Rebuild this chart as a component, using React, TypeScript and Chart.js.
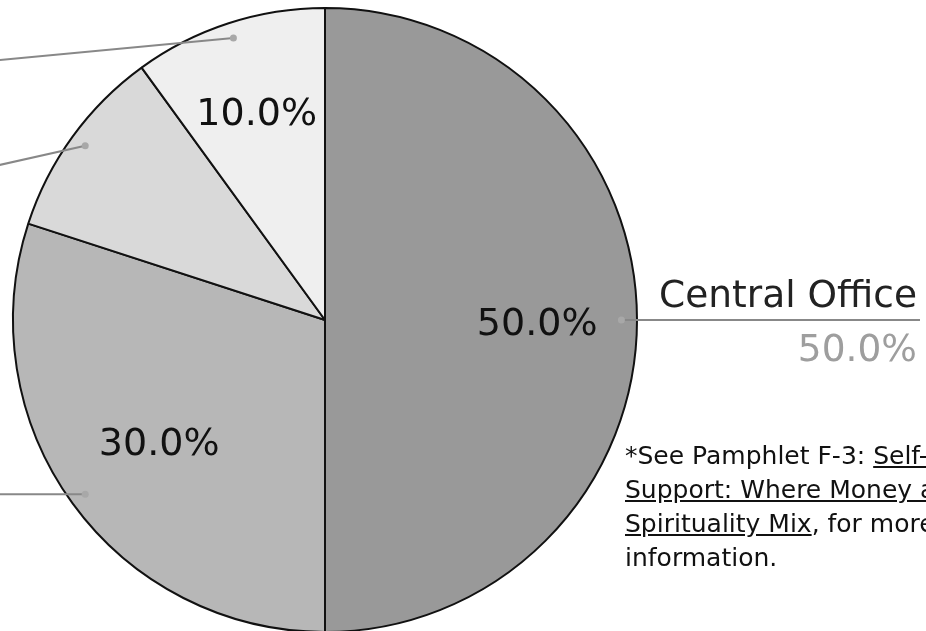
import React, { useEffect, useRef } from "react";
import { Chart, registerables } from "chart.js";

Chart.register(...registerables);

// ---- data ----
const categories = ["Central Office", "General Service Office", "Area", "District"];
const values = [50, 30, 10, 10];
const valueLabels = ["50.0%", "30.0%", "10.0%", "10.0%"];
const sliceColors = ["#999999", "#b7b7b7", "#d9d9d9", "#efefef"];
const showInside = [true, true, false, true];

const FONT = '"DejaVu Sans", Verdana, sans-serif';

const calloutPlugin = {
  id: "callouts",
  afterDatasetsDraw(chart: any, _args: any, opts: any) {
    const ctx = chart.ctx as CanvasRenderingContext2D;
    const meta = chart.getDatasetMeta(0);
    const area = chart.chartArea;
    const slopes: number[] = opts.leftSlopes || [];
    const insideR: number[] = opts.insideRadius || [];
    ctx.save();
    meta.data.forEach((arc: any, i: number) => {
      const p = arc.getProps(["x", "y", "startAngle", "endAngle", "outerRadius"], true);
      const mid = (p.startAngle + p.endAngle) / 2;
      const c = Math.cos(mid);
      const s = Math.sin(mid);
      const r = p.outerRadius;

      // inside percentage label
      if (showInside[i]) {
        const f = insideR[i] || 0.68;
        const lx = p.x + c * r * f;
        const ly = p.y + s * r * f;
        ctx.font = `38px ${FONT}`;
        ctx.fillStyle = "#111111";
        ctx.textAlign = "center";
        ctx.textBaseline = "alphabetic";
        ctx.fillText(valueLabels[i], lx, ly + 15);
      }

      // callout
      const dx = p.x + c * r * 0.95;
      const dy = p.y + s * r * 0.95;
      let ex: number;
      let ey: number;
      if (c >= 0) {
        ex = chart.width - 6;
        ey = dy;
      } else {
        ex = area.left - 270;
        ey = dy + (slopes[i] || 0) * (dx - ex);
      }
      ctx.strokeStyle = "#888888";
      ctx.lineWidth = 2;
      ctx.beginPath();
      ctx.moveTo(dx, dy);
      ctx.lineTo(ex, ey);
      ctx.stroke();
      ctx.fillStyle = "#a8a8a8";
      ctx.beginPath();
      ctx.arc(dx, dy, 3.5, 0, Math.PI * 2);
      ctx.fill();

      ctx.font = `37.5px ${FONT}`;
      ctx.textBaseline = "alphabetic";
      ctx.textAlign = "right";
      // right-side label ends at the line's end; left-side labels sit beyond the
      // line's outer end (outside the visible crop)
      ctx.fillStyle = "#222222";
      ctx.fillText(categories[i], ex - 3, ey - 13);
      ctx.fillStyle = "#9e9e9e";
      ctx.fillText(valueLabels[i], ex - 3, ey + 41);
    });
    ctx.restore();
  },
};

export default function App() {
  const canvasRef = useRef<HTMLCanvasElement | null>(null);

  useEffect(() => {
    if (!canvasRef.current) return;
    const chart = new Chart(canvasRef.current, {
      type: "pie",
      data: {
        labels: categories,
        datasets: [
          {
            data: values,
            backgroundColor: sliceColors,
            borderColor: "#111111",
            borderWidth: 2,
          },
        ],
      },
      options: {
        responsive: false,
        animation: false,
        layout: { padding: { left: 12, top: 7, right: 288, bottom: 7 } },
        plugins: {
          legend: { display: false },
          tooltip: { enabled: false },
          callouts: {
            leftSlopes: [0, 0, 0.224, 0.094],
            insideRadius: [0.68, 0.657, 0.68, 0.709],
          },
        } as any,
      },
      plugins: [calloutPlugin],
    });
    return () => chart.destroy();
  }, []);

  return (
    <div
      style={{
        position: "fixed",
        left: 0,
        top: 0,
        width: 926,
        height: 631,
        overflow: "hidden",
        background: "#ffffff",
      }}
    >
      <canvas
        ref={canvasRef}
        width={926}
        height={640}
        style={{ display: "block", width: 926, height: 640 }}
      />
      <div
        style={{
          position: "absolute",
          left: 625,
          top: 439,
          fontFamily: FONT,
          fontSize: 25,
          lineHeight: "34px",
          color: "#111111",
          whiteSpace: "nowrap",
        }}
      >
        *See Pamphlet F-3: <u>Self-</u>
        <br />
        <u>Support: Where Money and</u>
        <br />
        <u>Spirituality Mix</u>, for more
        <br />
        information.
      </div>
    </div>
  );
}
